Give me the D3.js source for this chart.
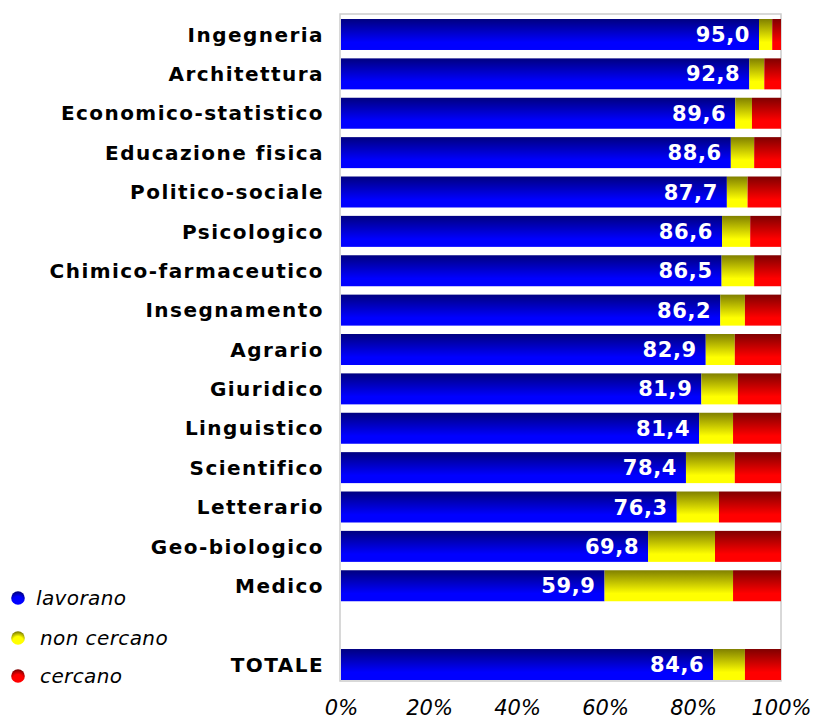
<!DOCTYPE html>
<html>
<head>
<meta charset="utf-8">
<script src="https://cdn.jsdelivr.net/npm/d3@7"></script>
<style>
  html, body { margin: 0; padding: 0; background: #fff; }
  svg { display: block; }
</style>
</head>
<body>
<svg id="chart" width="813" height="722"></svg>
<script>
// Condizione occupazionale per gruppo di corsi (%)
const categories = [
  "Ingegneria", "Architettura", "Economico-statistico", "Educazione fisica",
  "Politico-sociale", "Psicologico", "Chimico-farmaceutico", "Insegnamento",
  "Agrario", "Giuridico", "Linguistico", "Scientifico", "Letterario",
  "Geo-biologico", "Medico", "", "TOTALE"
];
const lavorano    = [95.0, 92.8, 89.6, 88.6, 87.7, 86.6, 86.5, 86.2, 82.9, 81.9, 81.4, 78.4, 76.3, 69.8, 59.9, null, 84.6];
const nonCercano  = [3.0, 3.4, 3.8, 5.3, 4.7, 6.4, 7.4, 5.6, 6.6, 8.3, 7.7, 11.1, 9.6, 15.2, 29.2, null, 7.2];
const cercano     = [2.0, 3.8, 6.6, 6.1, 7.6, 7.0, 6.1, 8.2, 10.5, 9.8, 10.9, 10.5, 14.1, 15.0, 10.9, null, 8.2];
const seriesNames = ["lavorano", "non cercano", "cercano"];
const tickValues  = [0, 20, 40, 60, 80, 100];

const colors = [
  { dark: "#000080", light: "#0000ff" },
  { dark: "#808000", light: "#ffff00" },
  { dark: "#800000", light: "#ff0000" }
];

const svg = d3.select("#chart");
const defs = svg.append("defs");

colors.forEach((c, i) => {
  const g = defs.append("linearGradient")
    .attr("id", "grad" + i).attr("x1", 0).attr("y1", 0).attr("x2", 0).attr("y2", 1);
  g.append("stop").attr("offset", "0%").attr("stop-color", c.dark);
  g.append("stop").attr("offset", "75%").attr("stop-color", c.light);
  g.append("stop").attr("offset", "100%").attr("stop-color", c.light);
  const r = defs.append("radialGradient")
    .attr("id", "dot" + i).attr("cx", "50%").attr("cy", "80%").attr("r", "75%");
  r.append("stop").attr("offset", "0%").attr("stop-color", c.light);
  r.append("stop").attr("offset", "55%").attr("stop-color", c.light);
  r.append("stop").attr("offset", "100%").attr("stop-color", c.dark);
});

const x = d3.scaleLinear().domain([0, 100]).range([341, 781]);
const y = d3.scaleBand().domain(d3.range(categories.length)).range([19, 680]).paddingInner(0.213).paddingOuter(0);

// plot frame
svg.append("rect")
  .attr("x", 340).attr("y", 14).attr("width", 441).attr("height", 667)
  .attr("fill", "none").attr("stroke", "#cccccc").attr("stroke-width", 1.5);

const rows = categories.map((name, i) => ({
  name, i, vals: [lavorano[i], nonCercano[i], cercano[i]]
})).filter(d => d.vals[0] != null);

const rowG = svg.append("g").selectAll("g").data(rows).join("g");

rowG.each(function(d) {
  let acc = 0;
  const segs = d.vals.map((v, k) => { const s = { k, x0: acc, x1: acc + v }; acc += v; return s; });
  d3.select(this).selectAll("rect").data(segs).join("rect")
    .attr("x", s => x(s.x0))
    .attr("width", s => x(s.x1) - x(s.x0))
    .attr("y", y(d.i))
    .attr("height", y.bandwidth())
    .attr("fill", s => `url(#grad${s.k})`);
});

// value labels inside the blue segment
rowG.append("text")
  .attr("x", d => x(d.vals[0]) - 9)
  .attr("y", d => y(d.i) + y.bandwidth() / 2)
  .attr("dy", "0.36em")
  .attr("text-anchor", "end")
  .attr("fill", "#ffffff")
  .style("font-family", "'DejaVu Sans', Verdana, sans-serif")
  .style("font-weight", "bold")
  .style("font-size", "21px")
  .style("letter-spacing", "0.6px")
  .text(d => d3.format(".1f")(d.vals[0]).replace(".", ","));

// category labels
svg.append("g").selectAll("text").data(rows).join("text")
  .attr("x", 324)
  .attr("y", d => y(d.i) + y.bandwidth() / 2)
  .attr("dy", "0.36em")
  .attr("text-anchor", "end")
  .attr("fill", "#000")
  .style("font-family", "'DejaVu Sans', Verdana, sans-serif")
  .style("font-weight", "bold")
  .style("font-size", "20px")
  .style("letter-spacing", "1.45px")
  .text(d => d.name);

// x axis tick labels
const axis = d3.axisBottom(x).tickValues(tickValues).tickSize(0).tickFormat(d => d + "%");
const axG = svg.append("g").attr("transform", "translate(0,700)").call(axis);
axG.select(".domain").remove();
axG.selectAll("text")
  .attr("dy", "0.71em")
  .attr("y", 0)
  .attr("fill", "#000")
  .style("font-family", "'DejaVu Sans', Verdana, sans-serif")
  .style("font-style", "italic")
  .style("font-size", "21px");

// legend
const legendY = [598, 638, 676];
const legendX = [36, 40, 40];
const lg = svg.append("g").selectAll("g").data(seriesNames).join("g");
lg.append("circle")
  .attr("cx", 18).attr("cy", (d, i) => legendY[i]).attr("r", 6.8)
  .attr("fill", (d, i) => `url(#dot${i})`);
lg.append("text")
  .attr("x", (d, i) => legendX[i])
  .attr("y", (d, i) => legendY[i] + 7)
  .attr("fill", "#000")
  .style("font-family", "'DejaVu Sans', Verdana, sans-serif")
  .style("font-style", "italic")
  .style("font-size", "20px")
  .style("letter-spacing", "0.4px")
  .text(d => d);
</script>
</body>
</html>
